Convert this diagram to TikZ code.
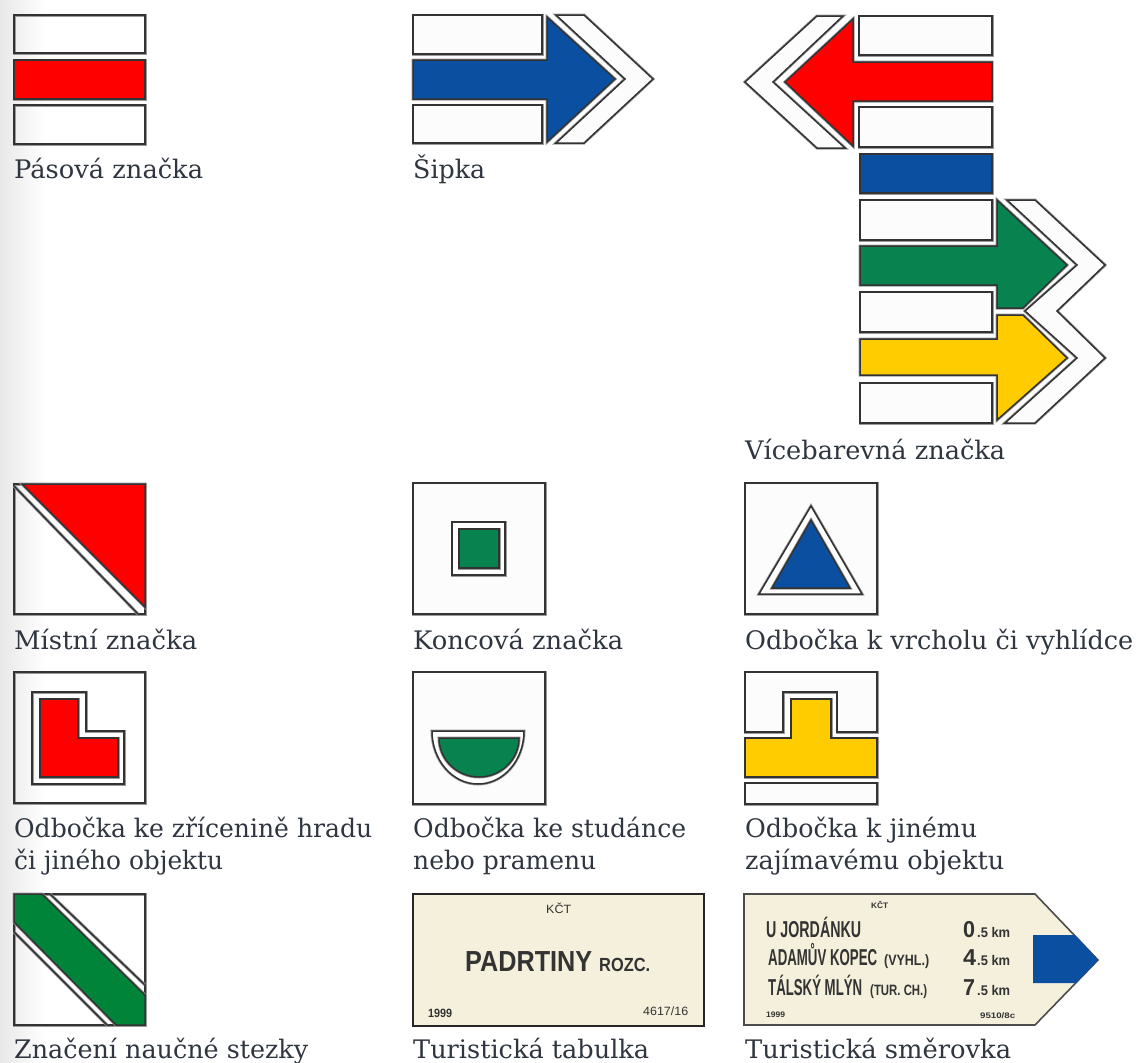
\documentclass[tikz,border=0pt]{standalone}
\usepackage{fontspec}
\usepackage{graphicx}
\setmainfont{DejaVu Serif}
\newfontfamily\signfont{Liberation Sans Bold}
\newfontfamily\plainsign{Liberation Sans}
\definecolor{capt}{HTML}{2F3640}
\definecolor{mred}{HTML}{FF0000}
\definecolor{mblue}{HTML}{0B50A0}
\definecolor{mgreen}{HTML}{08824F}
\definecolor{ngreen}{HTML}{00843A}
\definecolor{myellow}{HTML}{FFCC00}
\definecolor{cream}{HTML}{F5F0DC}
\definecolor{edge}{HTML}{333333}
\definecolor{halo}{HTML}{9A9A9A}
\newcommand\fitw[2]{\resizebox{#1pt}{\height}{#2}}
\tikzset{
  x=1pt,y=-1pt,
  ln/.style={preaction={draw=halo,line width=3pt},draw=edge,line width=1.5pt,line join=miter},
  mk/.style={ln,fill=#1},
  mk/.default={white!99!black},
  bx/.style={ln,fill=white!99!black},
  bxl/.style={ln},
  capn/.style={anchor=base west,inner sep=0pt,text=capt,font=\fontsize{25.5}{26}\selectfont},
  sgn/.style={anchor=base west,inner sep=0pt,text=black!80},
}
\begin{document}
\begin{tikzpicture}
\useasboundingbox (0,0) rectangle (1136,1063);
\fill[white] (0,0) rectangle (1136,1063);
\shade[left color=black!9,right color=white,shading angle=90,draw=none] (0,0) rectangle (45,1063);
% --- Pasova
\path[bxl] (14,15) rectangle (145,53);
\path[mk=mred] (14,60) rectangle (145,99);
\path[bxl] (14,105) rectangle (145,144);
\node[capn] (c1) at (14,178) {\fitw{189}{Pásová značka}};
% --- Sipka
\path[mk] (413,15) rectangle (542,54);
\path[mk] (413,105) rectangle (542,143);
\path[mk=mblue] (413,60) -- (547,60) -- (547,17) -- (615,79) -- (547,142) -- (547,99) -- (413,99) -- cycle;
\path[mk] (556,15) -- (584,15) -- (653,79) -- (584,143) -- (556,143) -- (625,79) -- cycle;
\node[capn] (c2) at (413,178) {\fitw{72}{Šipka}};
% --- Vicebarevna
\path[mk] (859,16) rectangle (992,55);
\path[mk] (859,107) rectangle (992,147);
\path[mk=mred] (992,62) -- (853,62) -- (853,19) -- (785,82) -- (853,146) -- (853,101) -- (992,101) -- cycle;
\path[mk] (843,16) -- (817,16) -- (745,82) -- (817,148) -- (845,148) -- (773,82) -- cycle;
\path[mk=mblue] (860,154) rectangle (992,193);
\path[mk] (860,200) rectangle (992,240);
\path[mk] (860,292) rectangle (992,332);
\path[mk] (860,383) rectangle (992,423);
\path[mk=mgreen] (860,246) -- (997,246) -- (997,200) -- (1067,265) -- (1023,308) -- (997,308) -- (997,285) -- (860,285) -- cycle;
\path[mk=myellow] (860,339) -- (997,339) -- (997,315) -- (1023,315) -- (1067,358) -- (997,420) -- (997,375) -- (860,375) -- cycle;
\path[mk] (1007,200) -- (1035,200) -- (1105,265) -- (1057,311) -- (1105,358) -- (1035,423) -- (1005,423) -- (1077,358) -- (1025,311) -- (1077,265) -- cycle;
\node[capn] (c3) at (745,459) {\fitw{260}{Vícebarevná značka}};
% --- Mistni
\path[bxl] (14,484) rectangle (145,614);
\path[mk=mred] (22,484) -- (145,484) -- (145,607) -- cycle;
\draw[ln] (14,486) -- (138,614);
\node[capn] (c4) at (14,649) {\fitw{183}{Místní značka}};
% --- Koncova
\path[bx] (413,483) rectangle (545,614);
\path[mk=white] (452,522) rectangle (505,575);
\path[mk=mgreen] (459,529) rectangle (499,568);
\node[capn] (c5) at (413,649) {\fitw{210}{Koncová značka}};
% --- Vrchol
\path[bx] (745,483) rectangle (877,614);
\path[mk=white] (811,506) -- (862,594) -- (759,594) -- cycle;
\path[mk=mblue] (811,520) -- (850,588) -- (772,588) -- cycle;
\node[capn] (c6) at (745,649) {\fitw{388}{Odbočka k vrcholu či vyhlídce}};
% --- Zricenina
\path[bxl] (14,672) rectangle (145,803);
\path[ln] (32,692) -- (86,692) -- (86,731) -- (124,731) -- (124,784) -- (32,784) -- cycle;
\path[mk=mred] (40,699) -- (78,699) -- (78,738) -- (118,738) -- (118,777) -- (40,777) -- cycle;
\node[capn] (c7) at (14,837) {\fitw{358}{Odbočka ke zřícenině hradu}};
\node[capn] (c7b) at (14,869) {\fitw{209}{či jiného objektu}};
% --- Studanka
\path[bx] (413,672) rectangle (545,804);
\path[mk=white] (432,731) -- (524,731) arc[start angle=0,end angle=180,x radius=46,y radius=53] -- cycle;
\path[mk=mgreen] (439,738) -- (519,738) arc[start angle=0,end angle=180,x radius=40,y radius=39] -- cycle;
\node[capn] (c8) at (413,837) {\fitw{273}{Odbočka ke studánce}};
\node[capn] (c8b) at (413,869) {\fitw{183}{nebo pramenu}};
% --- Zajimavy objekt
\path[mk] (745,672) -- (877,672) -- (877,732) -- (837,732) -- (837,692) -- (783,692) -- (783,732) -- (745,732) -- cycle;
\path[mk=myellow] (791,699) -- (831,699) -- (831,738) -- (877,738) -- (877,777) -- (745,777) -- (745,738) -- (791,738) -- cycle;
\path[mk] (745,783) rectangle (877,804);
\node[capn] (c9) at (745,837) {\fitw{232}{Odbočka k jinému}};
\node[capn] (c9b) at (745,869) {\fitw{259}{zajímavému objektu}};
% --- Naucna stezka
\path[bxl] (14,894) rectangle (145,1025);
\path[mk=ngreen] (14,894) -- (42,894) -- (145,995) -- (145,1025) -- (116,1025) -- (14,922) -- cycle;
\draw[ln] (50,894) -- (145,985);
\draw[ln] (14,932) -- (107,1025);
\node[capn] (c10) at (14,1058) {\fitw{294}{Značení naučné stezky}};
% --- Tabulka
\draw[black!85,line width=2pt,fill=cream] (413,894) rectangle (704,1026);
\node[sgn,font=\plainsign\fontsize{12}{13}\selectfont] (t1) at (546,913) {\fitw{25}{KČT}};
\node[sgn,font=\signfont\fontsize{29}{30}\selectfont] (t2) at (465,971) {\fitw{127}{PADRTINY}};
\node[sgn,font=\signfont\fontsize{19}{20}\selectfont] (t3) at (599,971) {\fitw{51}{ROZC.}};
\node[sgn,font=\signfont\fontsize{12}{13}\selectfont] (t4) at (428,1017) {\fitw{24}{1999}};
\node[sgn,font=\plainsign\fontsize{12}{13}\selectfont] (t5) at (643,1015) {\fitw{45}{4617/16}};
% --- Smerovka
\draw[black!70,line width=1.6pt,fill=cream] (744,894) -- (1035,894) -- (1098,960) -- (1035,1025) -- (744,1025) -- cycle;
\fill[mblue] (1033,935) -- (1075,935) -- (1098,960) -- (1076,983) -- (1033,983) -- cycle;
\node[sgn,font=\signfont\fontsize{8}{9}\selectfont] (s0) at (871,908) {\fitw{17}{KČT}};
\node[sgn,font=\signfont\fontsize{23}{24}\selectfont] (s1) at (766,937) {\fitw{95}{U JORDÁNKU}};
\node[sgn,font=\signfont\fontsize{23}{24}\selectfont] (s2) at (768,965) {\fitw{109}{ADAMŮV KOPEC}};
\node[sgn,font=\signfont\fontsize{15}{16}\selectfont] (s2b) at (884,965) {\fitw{45}{(VYHL.)}};
\node[sgn,font=\signfont\fontsize{23}{24}\selectfont] (s3) at (768,995) {\fitw{94}{TÁLSKÝ MLÝN}};
\node[sgn,font=\signfont\fontsize{15}{16}\selectfont] (s3b) at (870,995) {\fitw{57}{(TUR. CH.)}};
\node[sgn,font=\signfont\fontsize{23}{24}\selectfont] (k1) at (963,937) {\fitw{12}{0}};
\node[sgn,font=\signfont\fontsize{14}{15}\selectfont] (k1b) at (977,937) {\fitw{33}{.5 km}};
\node[sgn,font=\signfont\fontsize{23}{24}\selectfont] (k2) at (963,965) {\fitw{13}{4}};
\node[sgn,font=\signfont\fontsize{14}{15}\selectfont] (k2b) at (977,965) {\fitw{33}{.5 km}};
\node[sgn,font=\signfont\fontsize{23}{24}\selectfont] (k3) at (963,995) {\fitw{12}{7}};
\node[sgn,font=\signfont\fontsize{14}{15}\selectfont] (k3b) at (977,995) {\fitw{33}{.5 km}};
\node[sgn,font=\signfont\fontsize{8}{9}\selectfont] (s4) at (766,1017) {\fitw{19}{1999}};
\node[sgn,font=\signfont\fontsize{8}{9}\selectfont] (s5) at (980,1018) {\fitw{35}{9510/8c}};
\node[capn] (c11) at (413,1058) {\fitw{236}{Turistická tabulka}};
\node[capn] (c12) at (745,1058) {\fitw{266}{Turistická směrovka}};
\end{tikzpicture}
\end{document}
